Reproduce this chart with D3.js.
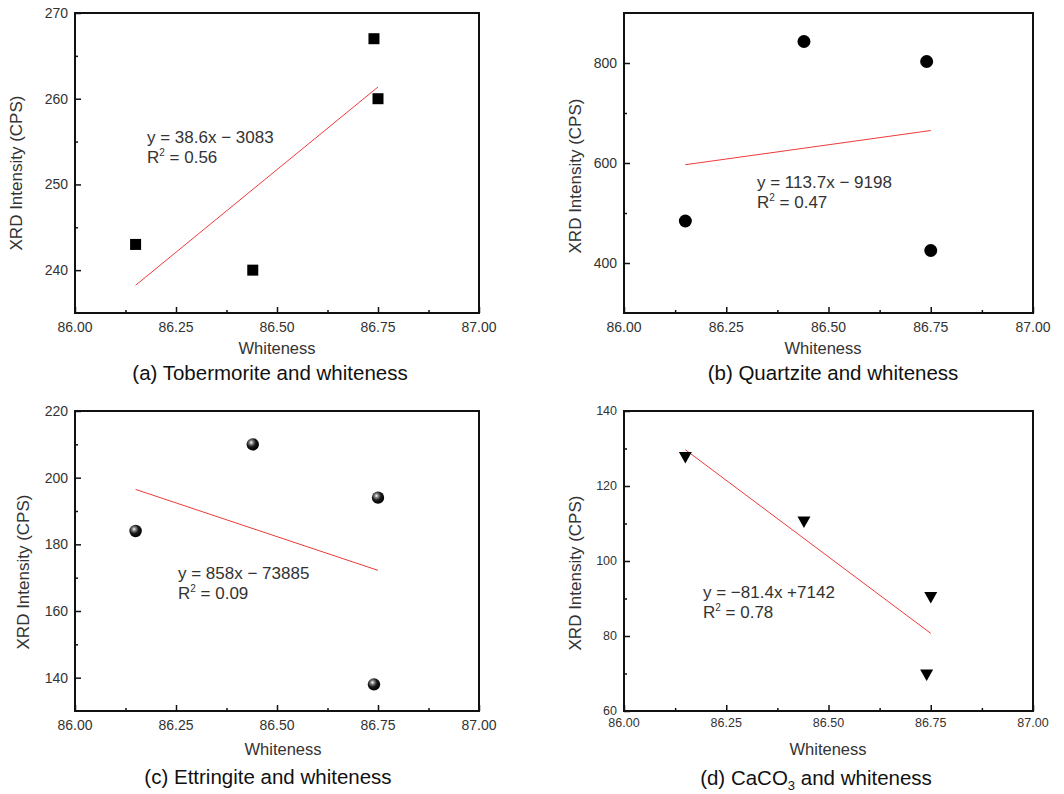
<!DOCTYPE html>
<html>
<head>
<meta charset="utf-8">
<script src="https://cdn.jsdelivr.net/npm/d3@7"></script>
<style>
  body { margin: 0; background: #fff; }
  svg { display: block; }
</style>
</head>
<body>
<svg width="1064" height="794"></svg>
<script>
// whiteness of the four samples (shared x values)
const whiteness = [86.15, 86.44, 86.74, 86.75];

// XRD intensities
const tobermorite = [243, 240, 267, 260];
const quartzite = [484, 843, 803, 425];
const ettringite = [184, 210, 138, 194];
const caco3 = [127.6, 110.4, 69.6, 90.3];

// axis ticks
const xTicks = [86.00, 86.25, 86.50, 86.75, 87.00];
const xMinor = [86.125, 86.375, 86.625, 86.875];
const yTicksA = [240, 250, 260, 270], yMinorA = [245, 255, 265];
const yTicksB = [400, 600, 800], yMinorB = [500, 700];
const yTicksC = [140, 160, 180, 200, 220], yMinorC = [150, 170, 190, 210];
const yTicksD = [60, 80, 100, 120, 140], yMinorD = [70, 90, 110, 130];

// fit labels as printed
const eqA = ["y = 38.6x \u2212 3083", "0.56"];
const eqB = ["y = 113.7x \u2212 9198", "0.47"];
const eqC = ["y = 858x \u2212 73885", "0.09"];
const eqD = ["y = \u221281.4x +7142", "0.78"];

const svg = d3.select("svg");
const FONT = "'Liberation Sans', Arial, sans-serif";

// sphere gradient for panel (c)
const defs = svg.append("defs");
const grad = defs.append("radialGradient").attr("id", "sphere")
  .attr("cx", "38%").attr("cy", "35%").attr("r", "65%");
grad.append("stop").attr("offset", "0%").attr("stop-color", "#ffffff");
grad.append("stop").attr("offset", "22%").attr("stop-color", "#8a8a8a");
grad.append("stop").attr("offset", "55%").attr("stop-color", "#1a1a1a");
grad.append("stop").attr("offset", "100%").attr("stop-color", "#000");

// least-squares line through the points
function fit(xs, ys) {
  const mx = d3.mean(xs), my = d3.mean(ys);
  const sxy = d3.sum(xs, (x, i) => (x - mx) * (ys[i] - my));
  const sxx = d3.sum(xs, x => (x - mx) * (x - mx));
  const b = sxy / sxx;
  return x => my + b * (x - mx);
}

function panel(p) {
  const g = svg.append("g");
  const x = d3.scaleLinear().domain([86, 87]).range([p.left, p.right]);
  const y = d3.scaleLinear().domain(p.yDomain).range([p.bottom, p.top]);

  // inward ticks
  g.append("g").attr("transform", `translate(0,${p.bottom})`)
    .call(d3.axisTop(x).tickValues(xTicks).tickSize(6).tickFormat(""))
    .call(a => a.select(".domain").remove());
  g.append("g").attr("transform", `translate(0,${p.bottom})`)
    .call(d3.axisTop(x).tickValues(xMinor).tickSize(3).tickFormat(""))
    .call(a => a.select(".domain").remove());
  g.append("g").attr("transform", `translate(${p.left},0)`)
    .call(d3.axisRight(y).tickValues(p.yTicks).tickSize(6).tickFormat(""))
    .call(a => a.select(".domain").remove());
  g.append("g").attr("transform", `translate(${p.left},0)`)
    .call(d3.axisRight(y).tickValues(p.yMinor).tickSize(3).tickFormat(""))
    .call(a => a.select(".domain").remove());
  g.selectAll(".tick line").attr("stroke", "#111").attr("stroke-width", 1.5);

  // frame
  g.append("rect")
    .attr("x", p.left).attr("y", p.top)
    .attr("width", p.right - p.left).attr("height", p.bottom - p.top)
    .attr("fill", "none").attr("stroke", "#111").attr("stroke-width", 2);

  // tick labels
  g.selectAll(".xl").data(xTicks).enter().append("text")
    .attr("x", d => x(d)).attr("y", p.bottom + p.xLabOff)
    .attr("text-anchor", "middle").attr("dominant-baseline", "central")
    .style("font", `${p.tickFont}px ${FONT}`).attr("fill", "#333")
    .text(d => d.toFixed(2));
  g.selectAll(".yl").data(p.yTicks).enter().append("text")
    .attr("x", p.left - 7).attr("y", d => y(d))
    .attr("text-anchor", "end").attr("dominant-baseline", "central")
    .style("font", `${p.tickFont}px ${FONT}`).attr("fill", "#333")
    .text(d => d);

  // axis titles
  g.append("text")
    .attr("transform", `translate(${p.yTitle[0]},${p.yTitle[1]}) rotate(-90)`)
    .attr("text-anchor", "middle").attr("dominant-baseline", "central")
    .style("font", `17px ${FONT}`).attr("fill", "#333")
    .text("XRD Intensity (CPS)");
  g.append("text")
    .attr("x", p.xTitle[0]).attr("y", p.xTitle[1])
    .attr("text-anchor", "middle").attr("dominant-baseline", "central")
    .style("font", `16.5px ${FONT}`).attr("fill", "#333")
    .text("Whiteness");

  // caption
  const cap = g.append("text")
    .attr("x", p.caption[0]).attr("y", p.caption[1] + 7)
    .attr("text-anchor", "middle")
    .style("font", `20.5px ${FONT}`).attr("fill", "#111");
  p.captionParts.forEach(part => {
    const t = cap.append("tspan").text(part.t);
    if (part.sub) t.attr("font-size", 13).attr("dy", 5);
    else if (part.after) t.attr("dy", -5);
  });

  // trend line
  const f = fit(whiteness, p.values);
  const xs = d3.extent(whiteness);
  g.append("path")
    .datum(xs)
    .attr("fill", "none").attr("stroke", "#ee3a3a").attr("stroke-width", 1)
    .attr("d", d3.line().x(d => x(d)).y(d => y(f(d))));

  // equation
  const eq = g.append("g").style("font", `17px ${FONT}`).attr("fill", "#333");
  eq.append("text").attr("x", p.eq[0]).attr("y", p.eq[1] + 6).text(p.eqText[0]);
  const r2 = eq.append("text").attr("x", p.eq[0]).attr("y", p.eq[1] + 26);
  r2.append("tspan").text("R");
  r2.append("tspan").attr("font-size", 10).attr("dy", -7).text("2");
  r2.append("tspan").attr("dy", 7).text(" = " + p.eqText[1]);

  // markers
  const pts = whiteness.map((w, i) => [w, p.values[i]]);
  const m = g.selectAll(".pt").data(pts).enter();
  if (p.marker === "square") {
    m.append("rect")
      .attr("x", d => x(d[0]) - 5.5).attr("y", d => y(d[1]) - 5.5)
      .attr("width", 11).attr("height", 11).attr("fill", "#000");
  } else if (p.marker === "circle") {
    m.append("circle")
      .attr("cx", d => x(d[0])).attr("cy", d => y(d[1])).attr("r", 6.5)
      .attr("fill", "#000");
  } else if (p.marker === "sphere") {
    m.append("circle")
      .attr("cx", d => x(d[0])).attr("cy", d => y(d[1])).attr("r", 6.2)
      .attr("fill", "url(#sphere)");
  } else {
    m.append("path")
      .attr("transform", d => `translate(${x(d[0])},${y(d[1])})`)
      .attr("d", "M-6.5,-5.5L6.5,-5.5L0,6Z").attr("fill", "#000");
  }
}

panel({
  left: 75, right: 479, top: 13, bottom: 313, yDomain: [235, 270],
  yTicks: yTicksA, yMinor: yMinorA, values: tobermorite, marker: "square",
  tickFont: 14, xLabOff: 14,
  yTitle: [16, 173], xTitle: [277, 348], caption: [270, 373],
  captionParts: [{t: "(a) Tobermorite and whiteness"}],
  eq: [147, 137], eqText: eqA
});
panel({
  left: 624, right: 1033, top: 13, bottom: 313, yDomain: [300, 900],
  yTicks: yTicksB, yMinor: yMinorB, values: quartzite, marker: "circle",
  tickFont: 14, xLabOff: 14,
  yTitle: [575, 176], xTitle: [823, 348], caption: [833, 373],
  captionParts: [{t: "(b) Quartzite and whiteness"}],
  eq: [757, 182], eqText: eqB
});
panel({
  left: 75, right: 479, top: 411, bottom: 711, yDomain: [130, 220],
  yTicks: yTicksC, yMinor: yMinorC, values: ettringite, marker: "sphere",
  tickFont: 14, xLabOff: 14,
  yTitle: [23, 572], xTitle: [283, 749], caption: [268, 777],
  captionParts: [{t: "(c) Ettringite and whiteness"}],
  eq: [178, 573], eqText: eqC
});
panel({
  left: 624, right: 1033, top: 411, bottom: 711, yDomain: [60, 140],
  yTicks: yTicksD, yMinor: yMinorD, values: caco3, marker: "triangle",
  tickFont: 12.5, xLabOff: 12,
  yTitle: [575, 573], xTitle: [828, 749], caption: [816, 778],
  captionParts: [{t: "(d) CaCO"}, {t: "3", sub: true}, {t: " and whiteness", after: true}],
  eq: [703, 592], eqText: eqD
});
</script>
</body>
</html>
